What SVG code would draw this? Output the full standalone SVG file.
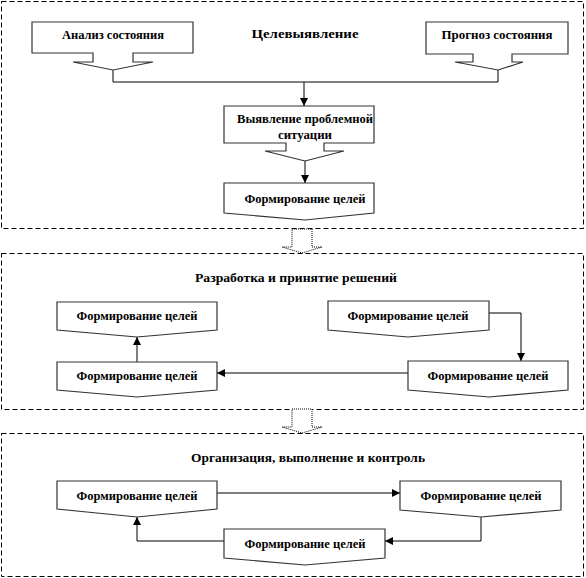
<svg xmlns="http://www.w3.org/2000/svg" width="586" height="578" viewBox="0 0 586 578">
<style>
.panel{fill:none;stroke:#000;stroke-width:1;stroke-dasharray:5,3}
.shape{fill:#fff;stroke:#333;stroke-width:1.2}
.blk{fill:#fff;stroke:#000;stroke-width:1;stroke-dasharray:1,1}
.conn{fill:none;stroke:#000;stroke-width:1}
.t{font-weight:bold;font-size:12px;fill:#000;text-anchor:middle}
</style>
<defs>
<marker id="ah" viewBox="0 0 8 8" refX="8" refY="4" markerWidth="8" markerHeight="8" markerUnits="userSpaceOnUse" orient="auto">
<path d="M0,0 L8,4 L0,8 Z" fill="#000"/>
</marker>
</defs>
<rect width="586" height="578" fill="#fff"/>
<g font-family="Liberation Serif, Times New Roman, DejaVu Serif, serif">
<g id="panels">
<rect class="panel" x="1.5" y="1.5" width="582" height="227"/>
<rect class="panel" x="1.5" y="253.5" width="582" height="156"/>
<rect class="panel" x="1.5" y="433.5" width="582" height="143"/>
<text class="t" x="305" y="38" textLength="107" lengthAdjust="spacingAndGlyphs">Целевыявление</text>
<text class="t" x="296" y="282" textLength="202" lengthAdjust="spacingAndGlyphs">Разработка и принятие решений</text>
<text class="t" x="308" y="462" textLength="234" lengthAdjust="spacingAndGlyphs">Организация, выполнение  и контроль</text>
</g>
<g id="block-arrows">
<polygon class="blk" points="292,229 312,229 312,247 322,247 302,253 282,247 292,247"/>
<polygon class="blk" points="292,409 312,409 312,427 322,427 302,433 282,427 292,427"/>
</g>
<g id="connectors">
<polyline class="conn" points="113,70 113,82 498,82 498,70"/>
<line class="conn" x1="304" y1="82" x2="304" y2="106" marker-end="url(#ah)"/>
<line class="conn" x1="305" y1="161" x2="305" y2="183" marker-end="url(#ah)"/>
<line class="conn" x1="137" y1="362" x2="137" y2="337" marker-end="url(#ah)"/>
<polyline class="conn" points="489,313 521,313 521,361" marker-end="url(#ah)"/>
<line class="conn" x1="408" y1="373" x2="217" y2="373" marker-end="url(#ah)"/>
<line class="conn" x1="217" y1="493" x2="400" y2="493" marker-end="url(#ah)"/>
<polyline class="conn" points="481,517 481,541 385,541" marker-end="url(#ah)"/>
<polyline class="conn" points="224,541 137,541 137,517" marker-end="url(#ah)"/>
</g>
<g id="n-analiz">
<polygon class="shape" points="32,22 193,22 193,53 133,53 133,62 153,62 113,70 73,62 93,62 93,53 32,53"/>
<text class="t" x="113" y="39" textLength="102" lengthAdjust="spacingAndGlyphs">Анализ состояния</text>
</g>
<g id="n-prognoz">
<polygon class="shape" points="426,22 568,22 568,54 512,54 512,62 523,62 498,70 455,62 473,62 473,54 426,54"/>
<text class="t" x="497" y="39" textLength="111" lengthAdjust="spacingAndGlyphs">Прогноз состояния</text>
</g>
<g id="n-vyyavlenie">
<polygon class="shape" points="224,106 374,106 374,143 324,143 324,151 344,151 305,161 265,151 286,151 286,143 224,143"/>
<text class="t" x="305" y="123" textLength="136" lengthAdjust="spacingAndGlyphs">Выявление проблемной</text>
<text class="t" x="305" y="139" textLength="54" lengthAdjust="spacingAndGlyphs">ситуации</text>
</g>
<g id="n-form1">
<polygon class="shape" points="224,183 374,183 374,213 305,220 224,213"/>
<text class="t" x="305" y="203" textLength="121" lengthAdjust="spacingAndGlyphs">Формирование целей</text>
</g>
<g id="n-form2-tl">
<polygon class="shape" points="57,302 217,302 217,330 137,337 57,330"/>
<text class="t" x="137" y="320" textLength="121" lengthAdjust="spacingAndGlyphs">Формирование целей</text>
</g>
<g id="n-form2-bl">
<polygon class="shape" points="57,362 217,362 217,390 137,397 57,390"/>
<text class="t" x="137" y="380" textLength="121" lengthAdjust="spacingAndGlyphs">Формирование целей</text>
</g>
<g id="n-form2-tr">
<polygon class="shape" points="328,301 489,301 489,330 408,337 328,330"/>
<text class="t" x="408" y="320" textLength="121" lengthAdjust="spacingAndGlyphs">Формирование целей</text>
</g>
<g id="n-form2-br">
<polygon class="shape" points="408,361 568,361 568,390 489,397 408,390"/>
<text class="t" x="488" y="380" textLength="121" lengthAdjust="spacingAndGlyphs">Формирование целей</text>
</g>
<g id="n-form3-tl">
<polygon class="shape" points="57,481 217,481 217,509 137,517 57,509"/>
<text class="t" x="137" y="500" textLength="121" lengthAdjust="spacingAndGlyphs">Формирование целей</text>
</g>
<g id="n-form3-tr">
<polygon class="shape" points="400,481 561,481 561,510 481,517 400,510"/>
<text class="t" x="481" y="500" textLength="121" lengthAdjust="spacingAndGlyphs">Формирование целей</text>
</g>
<g id="n-form3-b">
<polygon class="shape" points="224,529 385,529 385,558 305,565 224,558"/>
<text class="t" x="305" y="548" textLength="121" lengthAdjust="spacingAndGlyphs">Формирование целей</text>
</g>
</g>
</svg>
